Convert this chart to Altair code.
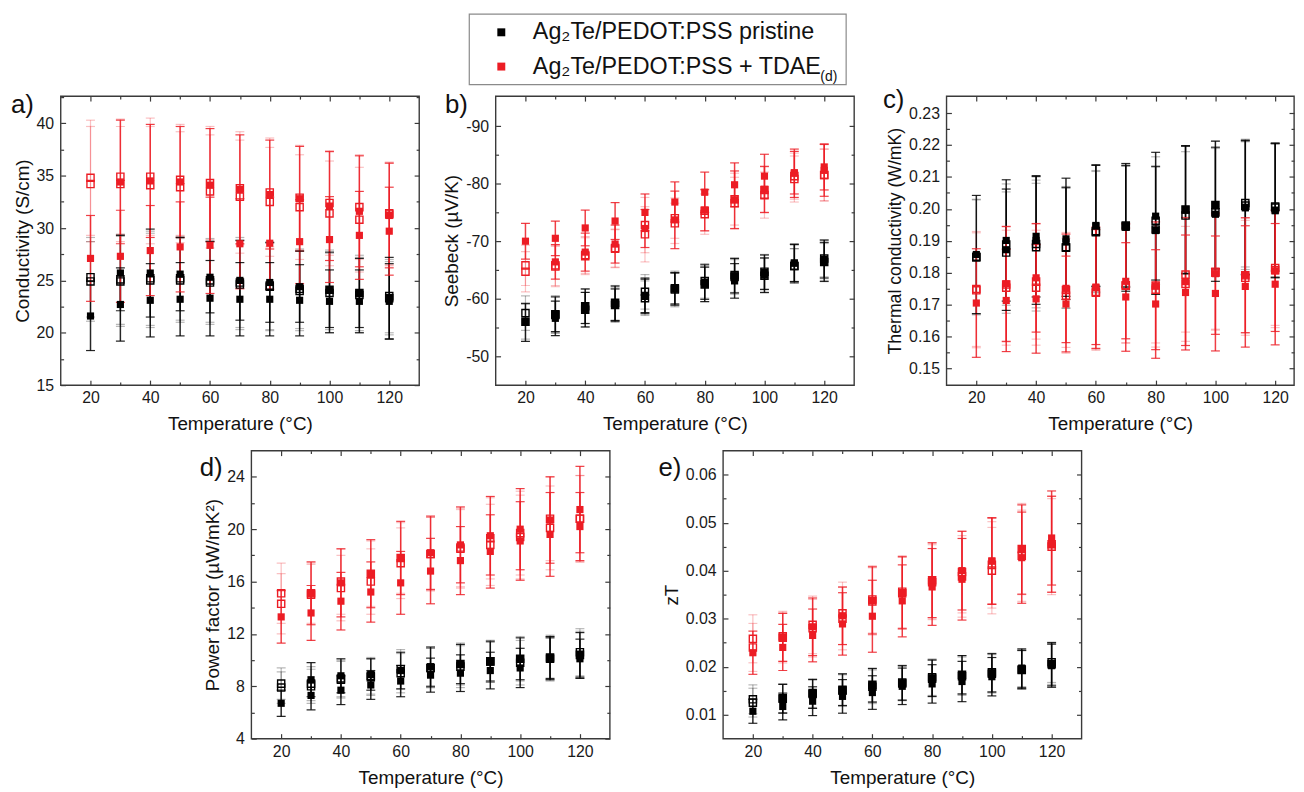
import altair as alt
import pandas as pd

TEMPS = [20, 30, 40, 50, 60, 70, 80, 90, 100, 110, 120]
TEMPS_B = [30, 40, 50, 60, 70, 80, 90, 100, 110, 120]
SERIES = ["Ag\u2082Te/PEDOT:PSS pristine", "Ag\u2082Te/PEDOT:PSS + TDAE"]
COLORS = ["#000000", "#ec1c24"]
X_MAJOR = [20, 40, 60, 80, 100, 120]
X_MINOR = [30, 50, 70, 90, 110]

# a) Conductivity (S/cm)
A_BLK_F1 = [21.6, 22.7, 23.1, 23.2, 23.3, 23.2, 23.2, 23.1, 23.0, 23.0, 23.0]
A_BLK_F1_ERR = [3.3, 3.5, 3.5, 3.5, 3.6, 3.5, 3.5, 3.4, 3.0, 3.0, 3.6]
A_BLK_F2 = [25.7, 25.7, 25.6, 25.3, 25.0, 24.8, 24.4, 24.1, 23.8, 23.3]
A_BLK_F2_ERR = [3.6, 4.2, 3.5, 3.4, 3.8, 3.8, 3.4, 3.6, 3.3, 3.9]
A_BLK_O1 = [25.3, 25.1, 25.2, 25.2, 25.0, 24.8, 24.5, 24.2, 24.1, 23.8, 23.5]
A_BLK_O2 = [24.9, 24.9, 25.0, 25.0, 24.8, 24.6, 24.4, 24.0, 23.8, 23.6, 23.3]
A_BLK_O_ERR = [3.8, 4.3, 4.5, 4.0, 4.0, 4.3, 4.2, 3.8, 3.8, 3.6, 3.5]
A_RED_F1 = [27.1, 27.3, 27.85, 28.2, 28.35, 28.5, 28.55, 28.7, 28.9, 29.3, 29.7]
A_RED_F1_ERR = [4.1, 4.4, 4.3, 4.3, 4.6, 4.3, 4.4, 4.0, 4.1, 4.2, 4.2]
A_RED_F2 = [34.4, 34.5, 34.4, 34.1, 33.7, 33.2, 32.8, 32.1, 31.6, 31.2]
A_RED_F2_ERR = [5.9, 5.4, 5.3, 5.4, 5.2, 5.2, 5.0, 5.2, 5.3, 5.0]
A_RED_O1 = [34.8, 34.9, 34.9, 34.6, 34.3, 33.8, 33.4, 32.9, 32.4, 32.0, 31.4]
A_RED_O2 = [34.2, 34.2, 34.1, 33.9, 33.5, 33.0, 32.5, 32.0, 31.4, 30.8, 31.3]
A_RED_O_ERR = [5.5, 5.5, 5.6, 5.3, 5.4, 5.4, 5.2, 5.0, 5.0, 5.0, 4.9]

# b) Seebeck (uV/K)
B_BLK_F1 = [-55.9, -56.6, -58.1, -58.9, -60.4, -61.7, -62.5, -63.1, -64.1, -66.2, -66.4]
B_BLK_F1_ERR = [3.3, 3.0, 3.0, 2.8, 3.0, 2.8, 3.0, 3.0, 3.0, 3.3, 3.4]
B_BLK_F2 = [-57.3, -58.7, -59.2, -60.6, -61.8, -62.9, -64.0, -64.6, -66.2, -66.9]
B_BLK_F2_ERR = [3.0, 3.0, 3.0, 3.0, 2.7, 3.0, 3.0, 3.0, 3.2, 3.3]
B_BLK_O1 = [-57.5, -57.3, -58.7, -59.3, -61.2, -61.8, -63.1, -64.1, -64.7, -65.7, -67.0]
B_BLK_O2 = [-56.0, -57.2, -58.1, -58.9, -60.1, -61.6, -62.5, -63.8, -64.0, -65.7, -66.4]
B_BLK_O_ERR = [3.0, 3.2, 3.0, 3.0, 3.0, 3.0, 3.0, 3.0, 3.0, 3.0, 3.2]
B_RED_F1 = [-70.0, -70.5, -72.3, -73.5, -75.0, -76.8, -78.5, -79.8, -81.3, -81.9, -82.9]
B_RED_F1_ERR = [3.1, 3.0, 3.1, 3.2, 3.2, 3.5, 3.5, 3.8, 3.8, 3.7, 4.0]
B_RED_F2 = [-66.4, -68.1, -69.5, -72.2, -73.7, -75.4, -77.2, -79.0, -81.8, -82.3]
B_RED_F2_ERR = [3.0, 3.3, 3.3, 3.3, 5.0, 3.6, 5.0, 4.0, 4.2, 4.5]
B_RED_O1 = [-65.8, -65.8, -67.6, -68.8, -72.8, -74.0, -75.3, -77.3, -78.9, -81.3, -81.5]
B_RED_O2 = [-64.7, -65.6, -67.4, -68.7, -71.2, -73.1, -74.7, -76.6, -78.0, -80.8, -81.5]
B_RED_O_ERR = [3.5, 3.5, 3.2, 3.3, 4.8, 3.5, 3.5, 4.5, 4.0, 4.0, 4.5]

# c) Thermal conductivity (W/mK)
C_BLK_F1 = [0.1857, 0.1872, 0.1901, 0.1896, 0.1946, 0.1942, 0.1932, 0.1996, 0.1983, 0.2003, 0.1994]
C_BLK_F1_ERR = [0.0185, 0.019, 0.020, 0.017, 0.019, 0.020, 0.020, 0.020, 0.021, 0.021, 0.021]
C_BLK_F2 = [0.1901, 0.1914, 0.1906, 0.1948, 0.1945, 0.1977, 0.1998, 0.2012, 0.2005, 0.1996]
C_BLK_F2_ERR = [0.019, 0.019, 0.019, 0.019, 0.019, 0.020, 0.020, 0.020, 0.021, 0.021]
C_BLK_O1 = [0.1850, 0.1888, 0.1880, 0.1878, 0.1927, 0.1948, 0.1963, 0.1998, 0.2012, 0.2018, 0.2007]
C_BLK_O2 = [0.1848, 0.1863, 0.1890, 0.1880, 0.1930, 0.1945, 0.1935, 0.1979, 0.1989, 0.2010, 0.2004]
C_BLK_O_ERR = [0.018, 0.019, 0.020, 0.019, 0.019, 0.019, 0.020, 0.020, 0.020, 0.020, 0.020]
C_RED_F1 = [0.1705, 0.1713, 0.1718, 0.1702, 0.1755, 0.1724, 0.1702, 0.1738, 0.1735, 0.1757, 0.1764]
C_RED_F1_ERR = [0.017, 0.016, 0.017, 0.015, 0.018, 0.017, 0.017, 0.018, 0.018, 0.019, 0.019]
C_RED_F2 = [0.1765, 0.1784, 0.1751, 0.1753, 0.1773, 0.1759, 0.1772, 0.1797, 0.1792, 0.1806]
C_RED_F2_ERR = [0.018, 0.017, 0.017, 0.019, 0.018, 0.020, 0.020, 0.019, 0.018, 0.019]
C_RED_O1 = [0.1749, 0.1763, 0.1772, 0.1746, 0.1740, 0.1761, 0.1760, 0.1794, 0.1803, 0.1792, 0.1815]
C_RED_O2 = [0.1745, 0.1753, 0.1753, 0.1728, 0.1737, 0.1759, 0.1747, 0.1765, 0.1800, 0.1784, 0.1808]
C_RED_O_ERR = [0.018, 0.018, 0.018, 0.018, 0.018, 0.018, 0.018, 0.018, 0.018, 0.018, 0.018]

# d) Power factor (uW/mK^2)
D_BLK_F1 = [6.7, 7.3, 7.7, 8.1, 8.4, 8.85, 9.0, 9.2, 9.4, 10.2, 10.1]
D_BLK_F1_ERR = [1.0, 1.1, 1.1, 1.1, 1.2, 1.3, 1.4, 1.4, 1.5, 1.6, 1.5]
D_BLK_F2 = [8.5, 8.8, 8.9, 9.2, 9.5, 9.7, 9.9, 10.1, 10.1, 10.4]
D_BLK_F2_ERR = [1.3, 1.3, 1.2, 1.4, 1.5, 1.5, 1.5, 1.6, 1.6, 1.7]
D_BLK_O1 = [8.2, 8.2, 8.6, 8.8, 9.3, 9.4, 9.7, 9.9, 10.1, 10.2, 10.6]
D_BLK_O2 = [7.9, 8.0, 8.5, 8.7, 9.0, 9.4, 9.5, 9.9, 9.8, 10.1, 10.4]
D_BLK_O_ERR = [1.2, 1.3, 1.4, 1.4, 1.5, 1.5, 1.6, 1.6, 1.7, 1.7, 1.8]
D_RED_F1 = [13.3, 13.6, 14.5, 15.2, 15.9, 16.8, 17.6, 18.3, 19.1, 19.6, 20.2]
D_RED_F1_ERR = [2.0, 2.1, 2.2, 2.3, 2.4, 2.5, 2.6, 2.8, 3.0, 3.2, 2.6]
D_RED_F2 = [15.1, 15.9, 16.6, 17.8, 18.2, 18.8, 19.5, 20.0, 20.7, 21.5]
D_RED_F2_ERR = [2.4, 2.6, 2.6, 2.8, 2.8, 2.9, 3.0, 3.1, 3.3, 3.3]
D_RED_O1 = [15.1, 15.1, 16.0, 16.0, 17.4, 18.1, 18.6, 19.3, 19.7, 20.8, 20.8]
D_RED_O2 = [14.3, 15.0, 15.5, 16.6, 17.8, 18.1, 18.5, 18.8, 19.4, 20.1, 20.8]
D_RED_O_ERR = [2.3, 2.3, 2.5, 2.5, 2.7, 2.8, 3.0, 3.1, 3.2, 3.2, 3.3]

# e) zT
E_BLK_F1 = [0.0107, 0.0117, 0.0128, 0.0138, 0.0146, 0.0159, 0.0164, 0.0169, 0.0179, 0.0194, 0.0202]
E_BLK_F1_ERR = [0.0025, 0.0028, 0.0030, 0.0035, 0.0035, 0.0038, 0.0040, 0.0042, 0.0040, 0.0040, 0.0045]
E_BLK_F2 = [0.0133, 0.0143, 0.0152, 0.0161, 0.0166, 0.0176, 0.0183, 0.0187, 0.0197, 0.0205]
E_BLK_F2_ERR = [0.0030, 0.0030, 0.0033, 0.0035, 0.0036, 0.0038, 0.0040, 0.0040, 0.0040, 0.0045]
E_BLK_O1 = [0.0132, 0.0134, 0.0145, 0.0152, 0.0162, 0.0167, 0.0178, 0.0183, 0.0188, 0.0194, 0.0209]
E_BLK_O2 = [0.0125, 0.0133, 0.0143, 0.0150, 0.0158, 0.0165, 0.0175, 0.0180, 0.0185, 0.0193, 0.0205]
E_BLK_O_ERR = [0.0030, 0.0030, 0.0030, 0.0033, 0.0035, 0.0036, 0.0038, 0.0040, 0.0040, 0.0040, 0.0042]
E_RED_F1 = [0.0229, 0.0240, 0.0265, 0.0289, 0.0305, 0.0337, 0.0366, 0.0382, 0.0420, 0.0427, 0.0468]
E_RED_F1_ERR = [0.0045, 0.0048, 0.0055, 0.0065, 0.0075, 0.0075, 0.0080, 0.0085, 0.0090, 0.0095, 0.0098]
E_RED_F2 = [0.0261, 0.0283, 0.0306, 0.0338, 0.0354, 0.0380, 0.0400, 0.0420, 0.0444, 0.0455]
E_RED_F2_ERR = [0.0050, 0.0060, 0.0060, 0.0070, 0.0075, 0.0078, 0.0082, 0.0090, 0.0093, 0.0100]
E_RED_O1 = [0.0258, 0.0263, 0.0287, 0.0311, 0.0340, 0.0356, 0.0380, 0.0397, 0.0412, 0.0445, 0.0455]
E_RED_O2 = [0.0240, 0.0260, 0.0280, 0.0300, 0.0336, 0.0353, 0.0376, 0.0388, 0.0400, 0.0431, 0.0450]
E_RED_O_ERR = [0.0050, 0.0052, 0.0060, 0.0065, 0.0070, 0.0075, 0.0078, 0.0085, 0.0090, 0.0095, 0.0100]

FONT = "Liberation Sans"
FRAME = "#3a3a3a"


def rows(series, temps, vals, errs, kind):
    return [{"T": t, "v": v, "lo": v - e, "hi": v + e, "series": series, "kind": kind}
            for t, v, e in zip(temps, vals, errs)]


def panel_frame(blk, red):
    out = []
    for name, d in ((SERIES[0], blk), (SERIES[1], red)):
        f1, f1e, f2, f2e, o1, o2, oe = d
        out += rows(name, TEMPS, o1, oe, "O")
        out += rows(name, TEMPS, o2, oe, "O")
        out += rows(name, TEMPS, f1, f1e, "F")
        out += rows(name, TEMPS_B, f2, f2e, "F")
    return pd.DataFrame(out)


def make_panel(df, W, H, xdom, ydom, yrev, ymaj, ymin, ytitle, label, lab_xy,
               yfmt="d", legend=False, ytitle_size=19):
    xs = alt.Scale(domain=xdom, nice=False, zero=False)
    ys = alt.Scale(domain=ydom, nice=False, zero=False, reverse=yrev)
    xaxis = alt.Axis(values=X_MAJOR, ticks=False, domain=False, grid=False,
                     labelPadding=5, title="Temperature (°C)", titlePadding=9)
    common = dict(values=ymaj, ticks=False, domain=False, grid=False, labelPadding=7,
                  title=ytitle, titlePadding=4, titleFontSize=ytitle_size)
    if yfmt == "raw":
        yaxis = alt.Axis(labelExpr="'' + datum.value", **common)
    else:
        yaxis = alt.Axis(format=yfmt, **common)
    X = alt.X("T:Q", scale=xs, axis=xaxis)

    def Y(f):
        return alt.Y(f"{f}:Q", scale=ys, axis=yaxis)

    cscale = alt.Scale(domain=SERIES, range=COLORS)
    col = alt.Color("series:N", scale=cscale, legend=None)
    base = alt.Chart(df)
    one = pd.DataFrame({"k": [0]})
    layers = []
    if legend:
        # legend carrier (draws nothing; the legend lists the two series of the scale)
        layers.append(base.transform_filter("false").mark_square(filled=True, size=52, opacity=1).encode(
            x=X, y=Y("v"),
            color=alt.Color("series:N", scale=cscale, legend=alt.Legend(
                orient="none", legendX=-26, legendY=-83, title=None,
                symbolType="square", symbolSize=64, symbolStrokeWidth=0, symbolOffset=13,
                symbolOpacity=1,
                labelFont=FONT, labelFontSize=23.5, labelColor="#111", labelOffset=20,
                labelLimit=600, rowPadding=9.5, padding=7))))
        # legend frame
        layers.append(alt.Chart(one).mark_rect(filled=False, stroke="#8a8a8a", strokeWidth=1.2).encode(
            x=alt.value(-26.5), x2=alt.value(353), y=alt.value(-82.5), y2=alt.value(-11.5)))
        # subscript of TDAE
        layers.append(alt.Chart(one).mark_text(align="left", baseline="alphabetic", fontSize=14,
                                               font=FONT, color="#111").encode(
            x=alt.value(327), y=alt.value(-15), text=alt.value("(d)")))
    for kind, op, sw in (("O", 0.28, 1.2), ("F", 0.85, 1.5)):
        sub = base.transform_filter(f"datum.kind == '{kind}'")
        layers.append(sub.mark_rule(opacity=op, strokeWidth=sw).encode(
            x=X, y=Y("lo"), y2="hi:Q", color=col))
        for f in ("lo", "hi"):
            layers.append(sub.mark_tick(orient="horizontal", size=9, thickness=1.2, opacity=op).encode(
                x=X, y=Y(f), color=col))
    layers.append(base.transform_filter("datum.kind == 'O'").mark_square(
        filled=False, size=52, strokeWidth=1.4, opacity=1).encode(x=X, y=Y("v"), color=col))
    layers.append(base.transform_filter("datum.kind == 'F'").mark_square(
        filled=True, size=52, opacity=1).encode(x=X, y=Y("v"), color=col))
    layers.append(alt.Chart(one).mark_text(align="left", baseline="alphabetic", fontSize=26,
                                           font=FONT, color="#111").encode(
        x=alt.value(lab_xy[0]), y=alt.value(lab_xy[1]), text=alt.value(label)))
    inner = alt.layer(*layers)

    def tick_layer(xo, yo, xv, yv, size):
        return base.mark_point(opacity=0).encode(
            x=alt.X("T:Q", scale=xs, axis=alt.Axis(
                orient=xo, offset=-H, values=xv, labels=False, domain=False, grid=False,
                title="", tickSize=size, tickColor=FRAME, tickWidth=1.2)),
            y=alt.Y("v:Q", scale=ys, axis=alt.Axis(
                orient=yo, offset=-W, values=yv, labels=False, domain=False, grid=False,
                title="", tickSize=size, tickColor=FRAME, tickWidth=1.2)))

    ticks = [tick_layer("top", "right", X_MAJOR, ymaj, 5),
             tick_layer("bottom", "left", X_MAJOR, ymaj, 5),
             tick_layer("top", "right", X_MINOR, ymin, 3),
             tick_layer("bottom", "left", X_MINOR, ymin, 3)]
    return alt.layer(inner, *ticks).resolve_scale(
        x="independent", y="independent").properties(width=W, height=H)


def spacer(w, h):
    return alt.Chart(pd.DataFrame({"k": [0]})).mark_point(opacity=0).encode(
        x=alt.X("k:Q", axis=None), y=alt.Y("k:Q", axis=None)
    ).properties(width=w, height=h, view=alt.ViewBackground(strokeOpacity=0))


df_a = panel_frame((A_BLK_F1, A_BLK_F1_ERR, A_BLK_F2, A_BLK_F2_ERR, A_BLK_O1, A_BLK_O2, A_BLK_O_ERR),
                   (A_RED_F1, A_RED_F1_ERR, A_RED_F2, A_RED_F2_ERR, A_RED_O1, A_RED_O2, A_RED_O_ERR))
df_b = panel_frame((B_BLK_F1, B_BLK_F1_ERR, B_BLK_F2, B_BLK_F2_ERR, B_BLK_O1, B_BLK_O2, B_BLK_O_ERR),
                   (B_RED_F1, B_RED_F1_ERR, B_RED_F2, B_RED_F2_ERR, B_RED_O1, B_RED_O2, B_RED_O_ERR))
df_c = panel_frame((C_BLK_F1, C_BLK_F1_ERR, C_BLK_F2, C_BLK_F2_ERR, C_BLK_O1, C_BLK_O2, C_BLK_O_ERR),
                   (C_RED_F1, C_RED_F1_ERR, C_RED_F2, C_RED_F2_ERR, C_RED_O1, C_RED_O2, C_RED_O_ERR))
df_d = panel_frame((D_BLK_F1, D_BLK_F1_ERR, D_BLK_F2, D_BLK_F2_ERR, D_BLK_O1, D_BLK_O2, D_BLK_O_ERR),
                   (D_RED_F1, D_RED_F1_ERR, D_RED_F2, D_RED_F2_ERR, D_RED_O1, D_RED_O2, D_RED_O_ERR))
df_e = panel_frame((E_BLK_F1, E_BLK_F1_ERR, E_BLK_F2, E_BLK_F2_ERR, E_BLK_O1, E_BLK_O2, E_BLK_O_ERR),
                   (E_RED_F1, E_RED_F1_ERR, E_RED_F2, E_RED_F2_ERR, E_RED_O1, E_RED_O2, E_RED_O_ERR))

pa = make_panel(df_a, 361, 291, [10, 130], [15, 42.6], False,
                [15, 20, 25, 30, 35, 40], [17.5, 22.5, 27.5, 32.5, 37.5, 42.5],
                "Conductivity (S/cm)", "a)", (-50, 17))
pb = make_panel(df_b, 361, 291, [10, 130], [-95.2, -45], True,
                [-90, -80, -70, -60, -50], [-85, -75, -65, -55],
                "Seebeck (µV/K)", "b)", (-51, 17), yfmt="raw", legend=True)
pc = make_panel(df_c, 350, 291, [10, 126.3], [0.1448, 0.2353], False,
                [0.15, 0.16, 0.17, 0.18, 0.19, 0.20, 0.21, 0.22, 0.23],
                [0.155, 0.165, 0.175, 0.185, 0.195, 0.205, 0.215, 0.225],
                "Thermal conductivity (W/mK)", "c)", (-64, 12), yfmt=".2f", ytitle_size=17.8)
pd_ = make_panel(df_d, 361, 290, [10, 130], [4, 26], False,
                 [4, 8, 12, 16, 20, 24], [6, 10, 14, 18, 22],
                 "Power factor (µW/mK²)", "d)", (-52, 26))
pe = make_panel(df_e, 361, 290, [10, 130], [0.005, 0.065], False,
                [0.01, 0.02, 0.03, 0.04, 0.05, 0.06], [0.015, 0.025, 0.035, 0.045, 0.055],
                "zT", "e)", (-65, 26), yfmt=".2f")

top = alt.hconcat(pa, spacer(77, 291), pb, spacer(93, 291), pc,
                  spacing=0, bounds="flush").resolve_scale(color="independent")
bottom = alt.hconcat(spacer(192, 290), pd_, spacer(114, 290), pe,
                     spacing=0, bounds="flush").resolve_scale(color="independent")

chart = alt.vconcat(top, bottom, spacing=14).resolve_scale(
    color="independent"
).properties(
    padding={"left": 2, "top": 2, "right": 0, "bottom": 0}
).configure_view(
    stroke=FRAME, strokeWidth=1.4
).configure_axis(
    labelFont=FONT, titleFont=FONT, labelFontSize=16, titleFontSize=19,
    labelColor="#1a1a1a", titleColor="#111", titleFontWeight="normal"
)

chart.save("out.html", embed_options={"renderer": "svg", "actions": False})
